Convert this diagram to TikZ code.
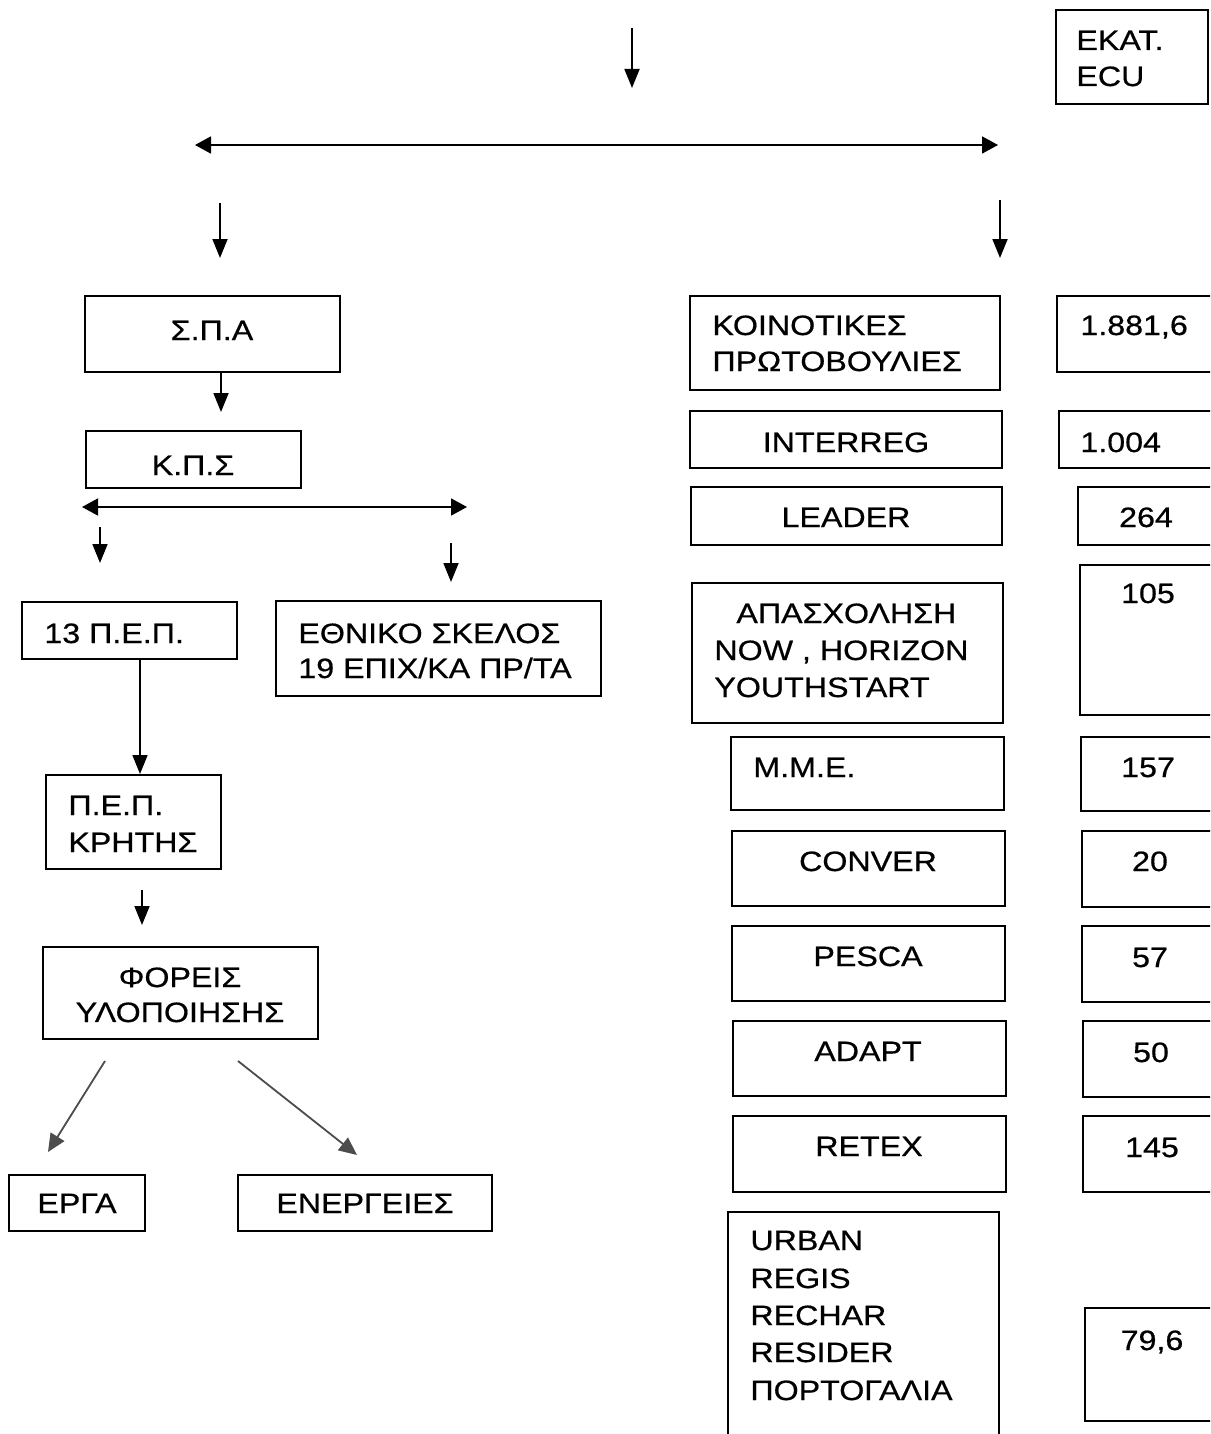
\documentclass[tikz,border=0pt]{standalone}
\usepackage{fontspec}
\setmainfont{Liberation Sans}[FakeStretch=1.15,FakeBold=0.6]
\usetikzlibrary{arrows.meta,fit}
\newcommand\TxtL[4]{\node[txt,anchor=base west] (#1) at (#2,#3) {#4};}
\newcommand\TxtC[4]{\node[txt,anchor=base] (#1) at (#2,#3) {#4};}
\begin{document}
\begin{tikzpicture}[x=0.5pt,y=-0.5pt,
  box/.style={draw, line width=1pt, inner sep=0pt},
  txt/.style={inner sep=0pt, font=\fontsize{14}{18}\selectfont},
  arr/.style={line width=0.9pt, -{Triangle[length=9.5pt,width=7.5pt]}},
  darr/.style={line width=0.9pt, {Triangle[length=8pt,width=8.5pt]}-{Triangle[length=8pt,width=8.5pt]}},
  garr/.style={line width=0.9pt, draw=black!70, -{Triangle[length=9pt,width=8pt,fill=black!70]}}]
\useasboundingbox (0,0) rectangle (1210,1434);
\fill[white] (0,0) rectangle (1210,1434);
\clip (0,0) rectangle (1210,1434);

% ---------- top ----------
\node[box, fit={(1056,10) (1208,104)}] (ekat) {};
\TxtL{ekat1}{1076}{50}{EKAT.}
\TxtL{ekat2}{1076}{86}{ECU}

\coordinate (t0) at (632,28); \coordinate (t1) at (632,88);
\draw[arr] (t0) -- (t1);
\coordinate (hL) at (195,145); \coordinate (hR) at (998,145);
\draw[darr] (hL) -- (hR);
\coordinate (dL0) at (220,203); \coordinate (dL1) at (220,258);
\draw[arr] (dL0) -- (dL1);
\coordinate (dR0) at (1000,200); \coordinate (dR1) at (1000,258);
\draw[arr] (dR0) -- (dR1);

% ---------- left column ----------
\node[box, fit={(85,296) (340,372)}] (spa) {};
\TxtC{spat}{212}{340}{Σ.Π.Α}
\node[box, fit={(86,431) (301,488)}] (kps) {};
\TxtC{kpst}{193}{475}{Κ.Π.Σ}
\coordinate (k1) at (221,412);
\draw[arr] (spa.south -| k1) -- (k1);

\coordinate (mL) at (82,507); \coordinate (mR) at (467,507);
\draw[darr] (mL) -- (mR);
\coordinate (m1a) at (100,527); \coordinate (m1b) at (100,563);
\draw[arr] (m1a) -- (m1b);
\coordinate (m2a) at (451,543); \coordinate (m2b) at (451,582);
\draw[arr] (m2a) -- (m2b);

\node[box, fit={(22,602) (237,659)}] (pep13) {};
\TxtL{pep13t}{44}{643}{13 Π.Ε.Π.}
\node[box, fit={(276,601) (601,696)}] (ethn) {};
\TxtL{ethn1}{298}{643}{ΕΘΝΙΚΟ ΣΚΕΛΟΣ}
\TxtL{ethn2}{298}{678}{19 ΕΠΙΧ/ΚΑ ΠΡ/ΤΑ}

\node[box, fit={(46,775) (221,869)}] (krit) {};
\TxtL{krit1}{68}{815}{Π.Ε.Π.}
\TxtL{krit2}{68}{852}{ΚΡΗΤΗΣ}
\coordinate (kx) at (140,700);
\draw[arr] (pep13.south -| kx) -- (krit.north -| kx);

\coordinate (f0) at (142,890); \coordinate (f1) at (142,925);
\draw[arr] (f0) -- (f1);
\node[box, fit={(43,947) (318,1039)}] (for) {};
\TxtC{for1}{180}{987}{ΦΟΡΕΙΣ}
\TxtC{for2}{180}{1022}{ΥΛΟΠΟΙΗΣΗΣ}

\coordinate (g1a) at (105,1061); \coordinate (g1b) at (48,1152);
\draw[garr] (g1a) -- (g1b);
\coordinate (g2a) at (238,1061); \coordinate (g2b) at (357,1155);
\draw[garr] (g2a) -- (g2b);

\node[box, fit={(9,1175) (145,1231)}] (erga) {};
\TxtC{ergat}{77}{1213}{ΕΡΓΑ}
\node[box, fit={(238,1175) (492,1231)}] (ener) {};
\TxtC{enert}{365}{1213}{ΕΝΕΡΓΕΙΕΣ}

% ---------- right column ----------
\node[box, fit={(690,296) (1000,390)}] (koin) {};
\TxtL{koin1}{712}{335}{ΚΟΙΝΟΤΙΚΕΣ}
\TxtL{koin2}{712}{371}{ΠΡΩΤΟΒΟΥΛΙΕΣ}
\node[box, fit={(1057,296) (1230,372)}] (n1) {};
\TxtL{n1t}{1080}{335}{1.881,6}

\node[box, fit={(690,411) (1002,468)}] (inter) {};
\TxtC{intert}{846}{452}{INTERREG}
\node[box, fit={(1059,411) (1230,468)}] (n2) {};
\TxtL{n2t}{1080}{452}{1.004}

\node[box, fit={(691,487) (1002,545)}] (lead) {};
\TxtC{leadt}{846}{527}{LEADER}
\node[box, fit={(1078,487) (1230,545)}] (n3) {};
\TxtC{n3t}{1146}{527}{264}

\node[box, fit={(692,583) (1003,723)}] (apas) {};
\TxtL{apas1}{736}{623}{ΑΠΑΣΧΟΛΗΣΗ}
\TxtL{apas2}{714}{660}{NOW , HORIZON}
\TxtL{apas3}{714}{697}{YOUTHSTART}
\node[box, fit={(1080,565) (1230,715)}] (n4) {};
\TxtC{n4t}{1148}{603}{105}

\node[box, fit={(731,737) (1004,810)}] (mme) {};
\TxtL{mmet}{753}{777}{Μ.Μ.Ε.}
\node[box, fit={(1081,737) (1230,811)}] (n5) {};
\TxtC{n5t}{1148}{777}{157}

\node[box, fit={(732,831) (1005,906)}] (conv) {};
\TxtC{convt}{868}{871}{CONVER}
\node[box, fit={(1082,831) (1230,907)}] (n6) {};
\TxtC{n6t}{1150}{871}{20}

\node[box, fit={(732,926) (1005,1001)}] (pesc) {};
\TxtC{pesct}{868}{966}{PESCA}
\node[box, fit={(1082,926) (1230,1002)}] (n7) {};
\TxtC{n7t}{1150}{967}{57}

\node[box, fit={(733,1021) (1006,1096)}] (adap) {};
\TxtC{adapt}{868}{1061}{ADAPT}
\node[box, fit={(1083,1021) (1230,1097)}] (n8) {};
\TxtC{n8t}{1151}{1062}{50}

\node[box, fit={(733,1116) (1006,1192)}] (retx) {};
\TxtC{retxt}{869}{1156}{RETEX}
\node[box, fit={(1083,1116) (1230,1192)}] (n9) {};
\TxtC{n9t}{1152}{1157}{145}

\node[box, fit={(728,1212) (999,1460)}] (urb) {};
\TxtL{urb1}{750}{1250}{URBAN}
\TxtL{urb2}{750}{1288}{REGIS}
\TxtL{urb3}{750}{1325}{RECHAR}
\TxtL{urb4}{750}{1362}{RESIDER}
\TxtL{urb5}{750}{1400}{ΠΟΡΤΟΓΑΛΙΑ}
\node[box, fit={(1085,1308) (1230,1421)}] (n10) {};
\TxtC{n10t}{1152}{1350}{79,6}
\end{tikzpicture}
\end{document}
